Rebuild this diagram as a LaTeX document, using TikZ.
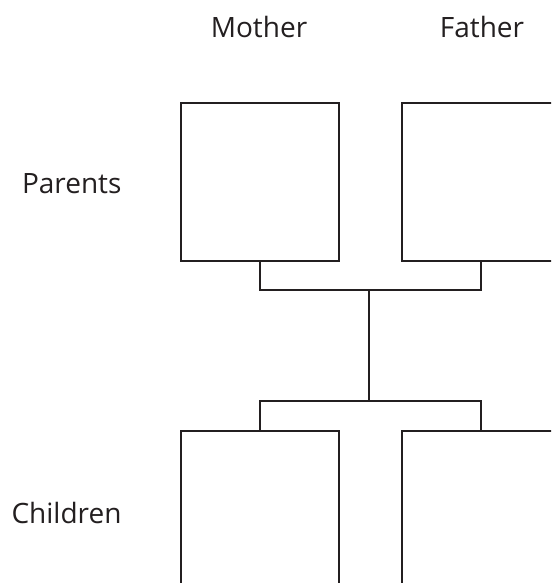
\documentclass[tikz,border=0pt]{standalone}
\usepackage{fontspec}
\setmainfont{Open Sans}
\usepackage{tikz}
\usepackage{xcolor}
\definecolor{inkgray}{RGB}{35,31,32}

\begin{document}
\begin{tikzpicture}[x=1pt,y=-1pt,line width=1.1pt,
  person/.style={draw=inkgray, minimum size=158pt, inner sep=0pt, outer sep=0pt},
  label/.style={text=inkgray, font=\fontsize{28}{32}\selectfont, inner sep=0pt}]
\clip (0,0) rectangle (551,583);

% Column and row labels
\node[label, anchor=base] (lmother) at (259,38) {Mother};
\node[label, anchor=base] (lfather) at (482,38) {Father};
\node[label, anchor=base east] (lparents) at (122,193) {Parents};
\node[label, anchor=base east] (lchildren) at (122,523) {Children};

% Parent boxes
\node[person] (mother) at (260,182) {};
\node[person] (father) at (481,182) {};

% Child boxes (cut off by the frame)
\node[person] (childa) at (260,510) {};
\node[person] (childb) at (481,510) {};

% Connectors
\coordinate (pjoin) at (369,290);
\coordinate (cjoin) at (369,401);
\draw[inkgray] (mother.south) |- (pjoin) -| (father.south);
\draw[inkgray] (pjoin) -- (cjoin);
\draw[inkgray] (childa.north) |- (cjoin) -| (childb.north);
\end{tikzpicture}
\end{document}
